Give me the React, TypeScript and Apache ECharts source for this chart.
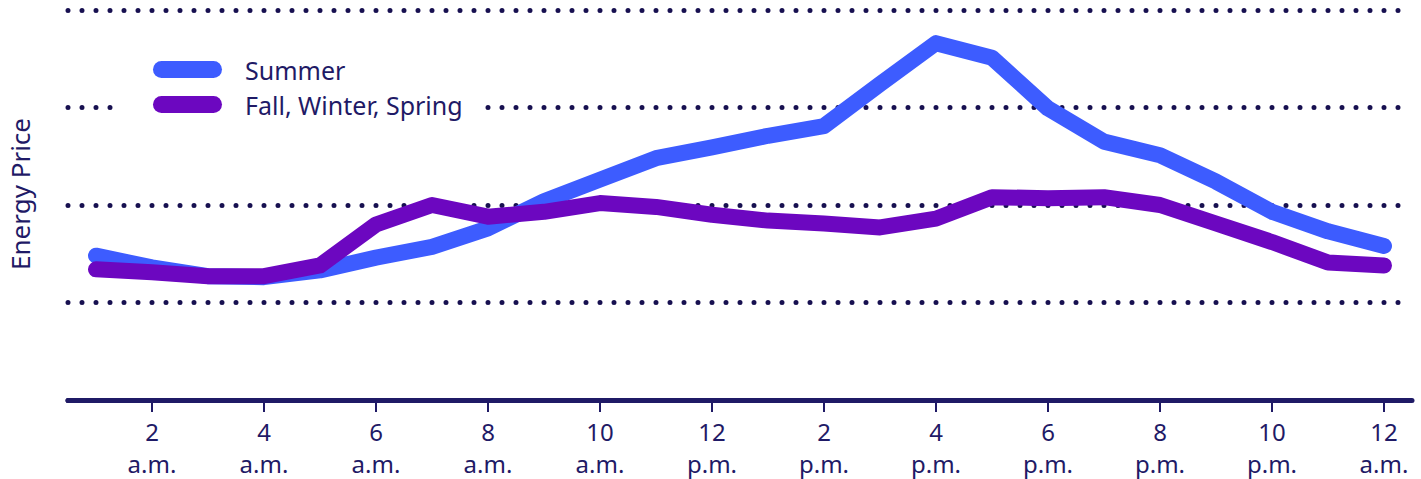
import React, { useEffect, useRef } from "react";
import * as echarts from "echarts";

// Hours of the day (1 a.m. through 12 a.m.)
const hourLabels = ["1", "2", "3", "4", "5", "6", "7", "8", "9", "10", "11", "12", "1", "2", "3", "4", "5", "6", "7", "8", "9", "10", "11", "12"];
const periodLabels = [
  "a.m.", "a.m.", "a.m.", "a.m.", "a.m.", "a.m.", "a.m.", "a.m.", "a.m.", "a.m.", "a.m.", "p.m.",
  "p.m.", "p.m.", "p.m.", "p.m.", "p.m.", "p.m.", "p.m.", "p.m.", "p.m.", "p.m.", "p.m.", "a.m.",
];
const categories = hourLabels.map((h, i) => `${h} ${periodLabels[i]}`);

const summer = [1.48, 1.36, 1.27, 1.26, 1.33, 1.46, 1.57, 1.76, 2.04, 2.26, 2.48, 2.59, 2.71, 2.81, 3.24, 3.66, 3.51, 2.99, 2.65, 2.51, 2.24, 1.93, 1.73, 1.58];
const fallWinterSpring = [1.34, 1.31, 1.27, 1.27, 1.38, 1.80, 2.00, 1.88, 1.93, 2.02, 1.98, 1.90, 1.84, 1.81, 1.77, 1.86, 2.08, 2.07, 2.08, 2.00, 1.81, 1.62, 1.41, 1.38];

const seriesNames = ["Summer", "Fall, Winter, Spring"];
const yAxisTitle = "Energy Price";

const NAVY = "#1f1a66";
const DOT = "#171050";
const BLUE = "#3d5cff";
const PURPLE = "#6c07c0";
const FONT = "'Noto Sans', 'Open Sans', sans-serif";
const CAPSULE = "path://M8.5 0H60.5A8.5 8.5 0 0 1 60.5 17H8.5A8.5 8.5 0 0 1 8.5 0Z";

export default function App() {
  const ref = useRef<HTMLDivElement>(null);

  useEffect(() => {
    if (!ref.current) return;
    const chart = echarts.init(ref.current, null, { renderer: "svg" });
    const showEven = (i: number) => i % 2 === 1;
    chart.setOption({
      animation: false,
      textStyle: { fontFamily: FONT },
      grid: { left: 68, right: 9, top: 10, bottom: 78, containLabel: false },
      legend: {
        orient: "vertical",
        left: 120,
        top: 47,
        padding: [10, 18, 10, 33],
        backgroundColor: "#ffffff",
        itemWidth: 69,
        itemHeight: 17,
        itemGap: 10,
        icon: CAPSULE,
        itemStyle: { borderWidth: 0 },
        textStyle: { fontSize: 25, color: NAVY, lineHeight: 25, padding: [0, 0, 0, 18], fontFamily: FONT },
        data: seriesNames,
        selectedMode: false,
      },
      graphic: [
        {
          type: "text",
          x: 20,
          y: 194,
          rotation: Math.PI / 2,
          style: {
            text: yAxisTitle,
            fontSize: 26,
            fontFamily: FONT,
            fill: NAVY,
            align: "center",
            verticalAlign: "middle",
          },
        },
      ],
      xAxis: {
        type: "category",
        data: categories,
        boundaryGap: true,
        z: 5,
        axisLine: { lineStyle: { color: NAVY, width: 5, cap: "round" } },
        axisTick: {
          show: true,
          alignWithLabel: true,
          interval: showEven,
          length: 12,
          lineStyle: { color: NAVY, width: 2 },
        },
        axisLabel: {
          interval: showEven,
          formatter: (_v: string, i: number) => `${hourLabels[i]}\n${periodLabels[i]}`,
          fontSize: 24,
          lineHeight: 32,
          color: NAVY,
          margin: 15,
          fontFamily: FONT,
        },
        splitLine: { show: false },
      },
      yAxis: {
        type: "value",
        min: 0,
        max: 4,
        interval: 1,
        axisLine: { show: false },
        axisTick: { show: false },
        axisLabel: { show: false },
        splitLine: { lineStyle: { type: [0, 14], width: 5, cap: "round", color: DOT } },
      },
      series: [
        {
          name: seriesNames[0],
          type: "line",
          data: summer,
          showSymbol: false,
          symbol: "none",
          itemStyle: { color: BLUE },
          lineStyle: { width: 16, color: BLUE, cap: "round", join: "round" },
          emphasis: { disabled: true },
          z: 2,
        },
        {
          name: seriesNames[1],
          type: "line",
          data: fallWinterSpring,
          showSymbol: false,
          symbol: "none",
          itemStyle: { color: PURPLE },
          lineStyle: { width: 16, color: PURPLE, cap: "round", join: "round" },
          emphasis: { disabled: true },
          z: 3,
        },
      ],
    });
    return () => chart.dispose();
  }, []);

  return <div ref={ref} style={{ position: "absolute", left: 0, top: 0, width: 1421, height: 479 }} />;
}
